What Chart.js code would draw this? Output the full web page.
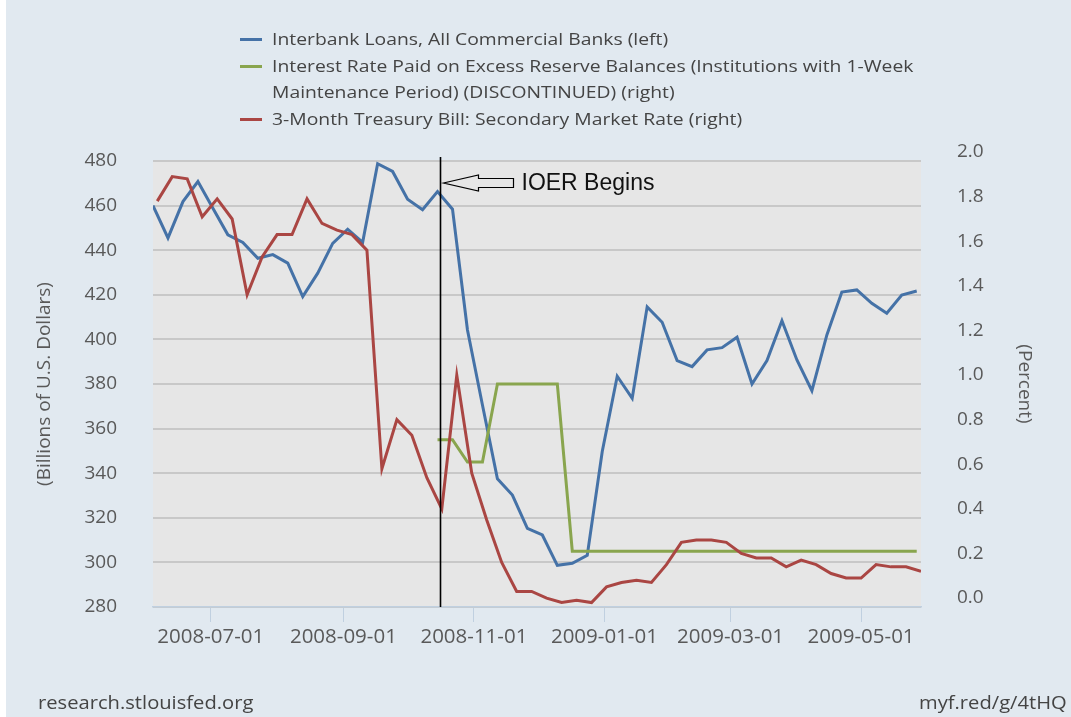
<!DOCTYPE html>
<html>
<head>
<meta charset="utf-8">
<title>Interbank Loans vs IOER</title>
<script src="https://cdn.jsdelivr.net/npm/chart.js@4.4.1/dist/chart.umd.min.js"></script>
<style>
  html, body { margin: 0; padding: 0; background: #fff; overflow: hidden; }
  #frame { position: absolute; left: 6px; top: 0; width: 1065px; height: 717px; background: #e1e9f0; overflow: hidden; }
  #chart { position: absolute; left: 0; top: 0; }
  #legend { position: absolute; left: 234px; top: 26px; font-family: "Open Sans", sans-serif; font-size: 17px; color: #444; }
  .row { display: flex; align-items: flex-start; }
  .swatch { width: 22px; height: 3px; margin-top: 12px; margin-right: 10px; flex: none; }
  .lines { transform: scaleX(1.137); transform-origin: left top; }
  .lines div { line-height: 26.7px; white-space: nowrap; }
  .foot { position: absolute; top: 690px; font-family: "Open Sans", sans-serif; font-size: 18px; color: #444;
          white-space: nowrap; transform: scaleX(1.12); transform-origin: left top; }
</style>
</head>
<body>
<div id="frame">
  <canvas id="chart" width="1065" height="717"></canvas>
  <div id="legend"></div>
  <div class="foot" style="left:32px">research.stlouisfed.org</div>
  <div class="foot" style="left:913px">myf.red/g/4tHQ</div>
</div>
<script>
// x range and axis labels
const startDate = '2008-06-04';
const endDate = '2009-05-29';
const tickDates = ['2008-07-01', '2008-09-01', '2008-11-01', '2009-01-01', '2009-03-01', '2009-05-01'];

// Interbank loans, weekly (Wednesdays), billions of dollars
const loansStart = '2008-06-04';
const loans = [460.0, 445.5, 461.8, 470.8, 458.8, 446.9, 443.5, 436.4, 438.0, 434.2,
               419.2, 429.7, 443.1, 449.4, 443.5, 478.8, 475.3, 462.9, 458.2, 466.3,
               458.4, 404.2, 370.6, 337.5, 330.2, 315.3, 312.3, 298.7, 299.6, 303.2,
               349.7, 383.5, 373.6, 414.6, 407.7, 390.5, 387.8, 395.3, 396.3, 401.0,
               380.0, 390.5, 408.4, 390.8, 377.0, 402.0, 421.2, 422.2, 416.2, 411.7,
               419.9, 421.7];

// Interest rate on excess reserves, weekly, percent
const ioerStart = '2008-10-15';
const ioer = [0.75, 0.75, 0.65, 0.65, 1.00, 1.00, 1.00, 1.00, 1.00, 0.25,
              0.25, 0.25, 0.25, 0.25, 0.25, 0.25, 0.25, 0.25, 0.25, 0.25,
              0.25, 0.25, 0.25, 0.25, 0.25, 0.25, 0.25, 0.25, 0.25, 0.25,
              0.25, 0.25, 0.25];

// 3-month T-bill, weekly (Fridays), percent
const tbillStart = '2008-06-06';
const tbill = [1.82, 1.93, 1.92, 1.75, 1.83, 1.74, 1.40, 1.57, 1.67, 1.67,
               1.83, 1.72, 1.69, 1.67, 1.60, 0.62, 0.84, 0.77, 0.58, 0.44,
               1.04, 0.60, 0.39, 0.20, 0.07, 0.07, 0.04, 0.02, 0.03, 0.02,
               0.09, 0.11, 0.12, 0.11, 0.19, 0.29, 0.30, 0.30, 0.29, 0.24,
               0.22, 0.22, 0.18, 0.21, 0.19, 0.15, 0.13, 0.13, 0.19, 0.18,
               0.18, 0.16];

const markDate = '2008-10-16';
const markText = 'IOER Begins';

const seriesLabels = [
    'Interbank Loans, All Commercial Banks (left)',
    'Interest Rate Paid on Excess Reserve Balances (Institutions with 1-Week\nMaintenance Period) (DISCONTINUED) (right)',
    '3-Month Treasury Bill: Secondary Market Rate (right)'
];
const seriesColors = ['#4572a7', '#89a54e', '#aa4643'];

function day(d) {
    return (Date.parse(d) - Date.parse(startDate)) / 864e5;
}
function weekly(first, values) {
    return values.map((v, i) => ({ x: day(first) + 7 * i, y: v }));
}

const tickFont = { family: 'Open Sans', size: 19 };
const gray = '#595959';

// gray plot area
const plotBg = {
    id: 'plotBg',
    beforeDraw(chart) {
        const a = chart.chartArea;
        chart.ctx.save();
        chart.ctx.fillStyle = '#e6e6e6';
        chart.ctx.fillRect(a.left, a.top, a.right - a.left, a.bottom - a.top);
        chart.ctx.restore();
    }
};

// vertical marker + arrow + text
const marker = {
    id: 'marker',
    afterDatasetsDraw(chart) {
        const ctx = chart.ctx;
        const a = chart.chartArea;
        const x = Math.round(chart.scales.x.getPixelForValue(day(markDate))) + 0.5;
        ctx.save();
        ctx.strokeStyle = '#000';
        ctx.lineWidth = 1.6;
        ctx.beginPath();
        ctx.moveTo(x, a.top - 4);
        ctx.lineTo(x, a.bottom);
        ctx.stroke();

        const ty = a.top + 22;
        const tx = x + 3;
        ctx.lineWidth = 1.2;
        ctx.beginPath();
        ctx.moveTo(tx, ty);
        ctx.lineTo(tx + 35, ty - 8);
        ctx.lineTo(tx + 35, ty - 4.5);
        ctx.lineTo(tx + 70, ty - 4.5);
        ctx.lineTo(tx + 70, ty + 4.5);
        ctx.lineTo(tx + 35, ty + 4.5);
        ctx.lineTo(tx + 35, ty + 8);
        ctx.closePath();
        ctx.stroke();

        ctx.fillStyle = '#111';
        ctx.font = '23px "Liberation Sans", Arial, sans-serif';
        ctx.textBaseline = 'middle';
        ctx.fillText(markText, tx + 78, ty + 1);
        ctx.restore();
    }
};

const chart = new Chart(document.getElementById('chart'), {
    type: 'line',
    data: {
        datasets: [{
            label: seriesLabels[0],
            data: weekly(loansStart, loans),
            borderColor: seriesColors[0],
            yAxisID: 'y',
            order: 3
        }, {
            label: seriesLabels[1],
            data: weekly(ioerStart, ioer),
            borderColor: seriesColors[1],
            yAxisID: 'y1',
            order: 2
        }, {
            label: seriesLabels[2],
            data: weekly(tbillStart, tbill),
            borderColor: seriesColors[2],
            yAxisID: 'y1',
            order: 1
        }]
    },
    options: {
        responsive: false,
        animation: false,
        layout: { padding: { top: 161, left: 0, right: 0, bottom: 0 } },
        elements: {
            line: { borderWidth: 3, tension: 0 },
            point: { radius: 0 }
        },
        plugins: {
            legend: { display: false },
            tooltip: { enabled: false }
        },
        scales: {
            x: {
                type: 'linear',
                min: 0,
                max: day(endDate),
                afterBuildTicks: s => { s.ticks = tickDates.map(d => ({ value: day(d) })); },
                afterFit: s => { s.height = 110; },
                ticks: {
                    callback: (v, i) => tickDates[i],
                    font: { family: 'Open Sans', size: 20.5 },
                    color: gray,
                    padding: 3,
                    maxRotation: 0,
                    autoSkip: false
                },
                grid: { drawOnChartArea: false, color: '#c0d0e0', tickLength: 15, lineWidth: 1 },
                border: { color: '#c0d0e0', width: 1.5 }
            },
            y: {
                position: 'left',
                min: 280,
                max: 480,
                afterFit: s => { s.width = 147; },
                ticks: { stepSize: 20, font: tickFont, color: gray, padding: 36 },
                grid: { color: '#c8c8c8', lineWidth: 2, drawTicks: false },
                border: { display: false },
                title: {
                    display: true,
                    text: '(Billions of U.S. Dollars)',
                    font: { family: 'Open Sans', size: 19 },
                    color: gray,
                    padding: { top: 27, bottom: 0 }
                }
            },
            y1: {
                position: 'right',
                min: 0,
                max: 2,
                afterFit: s => { s.width = 150; },
                ticks: {
                    stepSize: 0.2,
                    callback: v => v.toFixed(1),
                    font: tickFont,
                    color: gray,
                    padding: 36,
                    labelOffset: -9
                },
                grid: { drawOnChartArea: false, drawTicks: false },
                border: { display: false },
                title: {
                    display: true,
                    text: '(Percent)',
                    font: { family: 'Open Sans', size: 19 },
                    color: gray,
                    padding: { top: 35, bottom: 0 }
                }
            }
        }
    },
    plugins: [plotBg, marker]
});

// html legend (second entry wraps onto two lines)
const legend = document.getElementById('legend');
chart.data.datasets.forEach(ds => {
    const row = document.createElement('div');
    row.className = 'row';
    const sw = document.createElement('span');
    sw.className = 'swatch';
    sw.style.background = ds.borderColor;
    const lines = document.createElement('div');
    lines.className = 'lines';
    ds.label.split('\n').forEach(t => {
        const l = document.createElement('div');
        l.textContent = t;
        lines.appendChild(l);
    });
    row.appendChild(sw);
    row.appendChild(lines);
    legend.appendChild(row);
});
</script>
</body>
</html>
